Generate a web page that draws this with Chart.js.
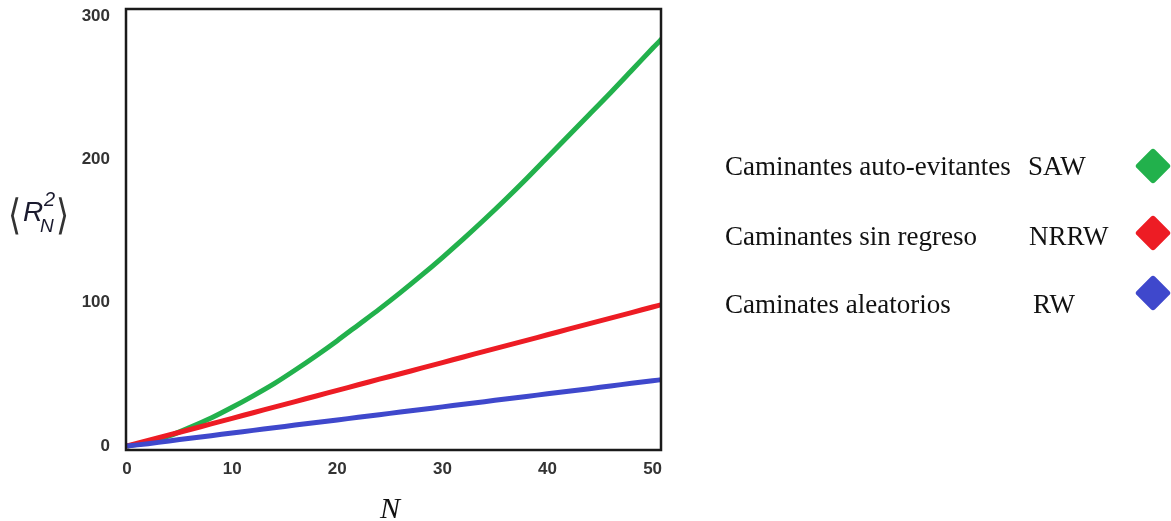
<!DOCTYPE html>
<html>
<head>
<meta charset="utf-8">
<script src="https://cdn.jsdelivr.net/npm/chart.js@4"></script>
<style>
  html, body { margin:0; padding:0; background:#fff; }
  #wrap { position:relative; width:1171px; height:521px; overflow:hidden; }
  #c { position:absolute; left:0; top:0; }
  .lg { position:absolute; font-family:"Liberation Serif","Times New Roman",serif; font-size:27px; color:#111; white-space:nowrap; line-height:1; }
  .dm { position:absolute; width:26px; height:26px; transform:rotate(45deg); border-radius:3px; }
  .yt { position:absolute; line-height:1; white-space:nowrap; color:#1a1a2e; }
  .br { font-family:'DejaVu Sans',sans-serif; font-size:42px; font-weight:200; color:#333; transform:scaleX(0.8); transform-origin:left top; }
  #xtitle { position:absolute; left:380px; top:493px; line-height:1; font-family:"Liberation Serif","Times New Roman",serif; font-style:italic; font-size:30px; color:#111; }
</style>
</head>
<body>
<div id="wrap">
  <canvas id="c" width="1171" height="521"></canvas>
  <div class="yt br" style="left:8px;top:194px;">⟨</div>
  <div class="yt" style="left:23px;top:198px;font-family:'Liberation Sans',Arial,sans-serif;font-style:italic;font-size:28px;">R</div>
  <div class="yt" style="left:44px;top:189px;font-family:'Liberation Sans',Arial,sans-serif;font-style:italic;font-size:20px;">2</div>
  <div class="yt" style="left:40px;top:216px;font-family:'Liberation Sans',Arial,sans-serif;font-style:italic;font-size:19px;">N</div>
  <div class="yt br" style="left:56px;top:194px;">⟩</div>
  <div id="xtitle">N</div>

  <div class="lg" style="left:725px;top:153px;">Caminantes auto-evitantes</div>
  <div class="lg" style="left:1028px;top:153px;">SAW</div>
  <div class="dm" style="left:1140px;top:153px;background:#22b14c;"></div>

  <div class="lg" style="left:725px;top:223px;">Caminantes sin regreso</div>
  <div class="lg" style="left:1029px;top:223px;">NRRW</div>
  <div class="dm" style="left:1140px;top:220px;background:#ed1c24;"></div>

  <div class="lg" style="left:725px;top:291px;">Caminates aleatorios</div>
  <div class="lg" style="left:1033px;top:291px;">RW</div>
  <div class="dm" style="left:1140px;top:280px;background:#3f48cc;"></div>
</div>
<script>
const nValues = [0,2,4,6,8,10,12,14,16,18,20,22,24,26,28,30,32,34,36,38,40,42,44,46,48,50,51];
const sawValues = [0,2.6,7,13,19.5,27,35,43.5,53,63,73.5,84.5,95.5,107,119,131.5,144.5,158,172,186.5,201.5,216.5,231.5,246.5,262,277.5,285];
const nrrwValues = [0,3.8,7.7,11.5,15.4,19.3,23.2,27.1,31,34.9,38.8,42.7,46.6,50.4,54.3,58.2,62.1,66,69.8,73.7,77.6,81.5,85.4,89.2,93.1,97,98.9];
const rwValues = [0,1.6,3.5,5.4,7.2,9.1,10.9,12.7,14.6,16.4,18.2,20,21.8,23.7,25.5,27.3,29.1,30.9,32.8,34.6,36.4,38.2,40,41.9,43.7,45.5,46.4];
const xTickValues = [0,10,20,30,40,50];
const yTickValues = [0,100,200,300];

function pts(vals){ return nValues.map((n,i)=>({x:n, y:vals[i]})); }

const boxPlugin = {
  id:'box',
  afterDatasetsDraw(chart){
    const a = chart.chartArea, ctx = chart.ctx;
    ctx.save();
    ctx.strokeStyle = '#1a1a1a';
    ctx.lineWidth = 2.5;
    ctx.strokeRect(a.left, a.top, a.right - a.left, a.bottom - a.top);
    ctx.restore();
  }
};

const tickFont = {family:"'Liberation Sans', Arial, sans-serif", size:17, weight:'bold'};

new Chart(document.getElementById('c'), {
  type:'line',
  data:{
    datasets:[
      {label:'SAW', data:pts(sawValues), borderColor:'#22b14c', borderWidth:5, pointRadius:0, tension:0.3, order:2},
      {label:'NRRW', data:pts(nrrwValues), borderColor:'#ed1c24', borderWidth:5, pointRadius:0, tension:0.3, order:1},
      {label:'RW', data:pts(rwValues), borderColor:'#3f48cc', borderWidth:5, pointRadius:0, tension:0.3, order:0}
    ]
  },
  options:{
    responsive:false,
    animation:false,
    layout:{ padding:{ top:9, right:510, left:0, bottom:0 } },
    plugins:{ legend:{display:false}, tooltip:{enabled:false} },
    scales:{
      x:{
        type:'linear', min:-0.1, max:50.8,
        grid:{display:false, drawTicks:false}, border:{display:false},
        afterBuildTicks(s){ s.ticks = xTickValues.map(v=>({value:v})); },
        afterFit(s){ s.height = 71; s.paddingLeft = 0; s.paddingRight = 0; },
        ticks:{ padding:9, color:'#333', font:tickFont }
      },
      y:{
        type:'linear', min:-2.8, max:304.9,
        grid:{display:false, drawTicks:false}, border:{display:false},
        afterBuildTicks(s){ s.ticks = yTickValues.map(v=>({value:v})); },
        afterFit(s){ s.width = 126; s.paddingTop = 0; s.paddingBottom = 0; },
        ticks:{ padding:16, color:'#333', font:tickFont }
      }
    }
  },
  plugins:[boxPlugin]
});
</script>
</body>
</html>
